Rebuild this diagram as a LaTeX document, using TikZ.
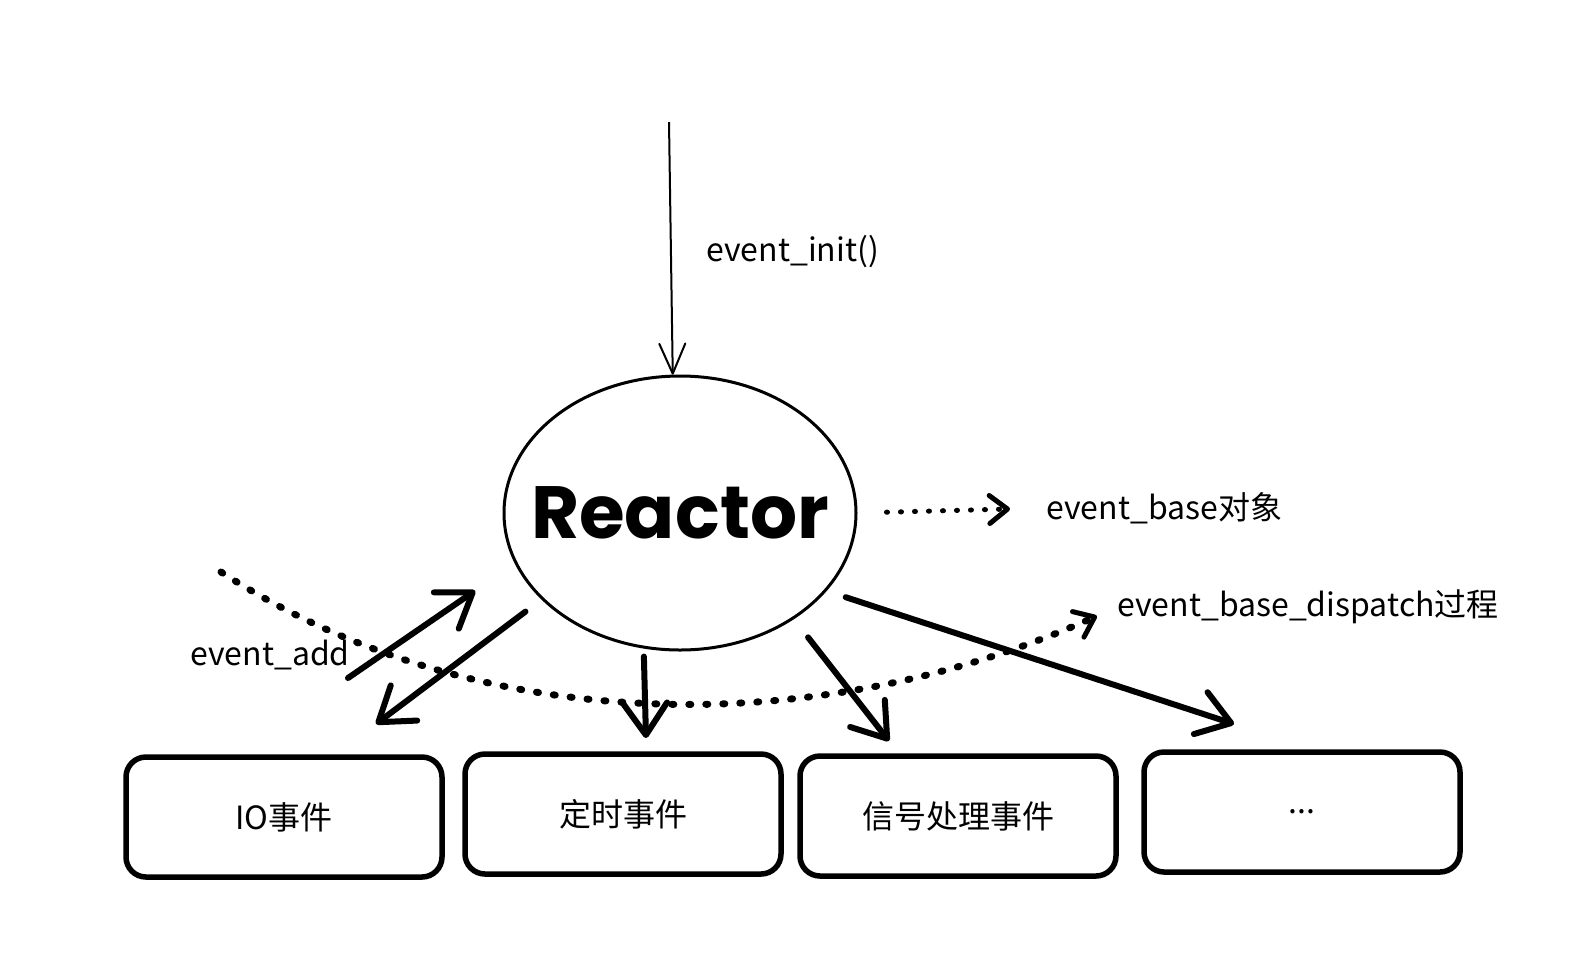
\documentclass[tikz,border=0pt]{standalone}
\usepackage{fontspec}
\setmainfont{Noto Sans CJK SC}
\newfontfamily\titlefont{Poppins}
\usepackage{tikz}
\usetikzlibrary{positioning,arrows.meta,calc,shapes.geometric}
\tikzset{
    reactor/.style={ellipse, draw, line width=1.5pt, minimum width=176pt, minimum height=137pt, inner xsep=-20pt, inner ysep=0pt, font=\titlefont\bfseries\fontsize{37}{40}\selectfont},
    event box/.style={rectangle, draw, rounded corners=10pt, line width=2.75pt, minimum width=158pt, minimum height=60pt, font=\fontsize{16}{19}\selectfont},
    call label/.style={anchor=west, inner sep=0pt, font=\fontsize{16}{19}\selectfont},
    call arrow/.style={-{Straight Barb[length=15pt, width=13pt, round]}, line width=1pt},
    event arrow/.style={-{Straight Barb[length=16pt, width=22pt, round]}, line width=3pt, line cap=round},
    dotted flow/.style={-{Straight Barb[length=9pt, width=14pt, round, line width=2.5pt]}, line width=3.5pt, line cap=round, dash pattern=on 1pt off 7.5pt},
    thin dotted flow/.style={dotted flow, line width=2.5pt, dash pattern=on 0.5pt off 6.5pt}
}

\begin{document}
\begin{tikzpicture}[x=0.5pt, y=-0.5pt]
    \useasboundingbox (0,0) rectangle (1592,966);

    % Reactor object in the middle
    \node[reactor] (reactor) at (680,513) {Reactor};

    % Event boxes along the bottom
    \node[event box] (io) at (284,817) {IO事件};
    \node[event box] (timer) at (623,814) {定时事件};
    \node[event box] (signal) at (958,816) {信号处理事件};
    \node[event box] (more) at (1302,812) {...};

    % Call labels
    \node[call label] (initlbl) at (706,252) {event\_init()};
    \node[call label] (baselbl) at (1046,508) {event\_base对象};
    \node[call label] (dispatchlbl) at (1117,607) {event\_base\_dispatch过程};
    \node[call label] (addlbl) at (190,655) {event\_add};

    % Free ends of the connectors
    \coordinate (initsrc) at (669,122);
    \coordinate (dispsrc) at (221,572);
    \coordinate (addsrc) at (348,678);
    \coordinate (ioin) at (376,724);
    \coordinate (timerin) at (646,738);
    \coordinate (signalin) at (889,741);
    \coordinate (morein) at (1234,724);

    % event_init() gives the event_base
    \draw[call arrow] (initsrc) -- (reactor.93);
    \draw[thin dotted flow, shorten <=14.5pt, shorten >=18pt] (reactor.east) -- (baselbl.west);

    % dispatch loop
    \draw[dotted flow, shorten >=11pt] (dispsrc) .. controls (480,740) and (820,740) .. (dispatchlbl.west);

    % event_add and the events
    \draw[event arrow, shorten >=24pt] (addsrc) -- (reactor.197);
    \draw[event arrow, shorten <=10pt] (reactor.212) -- (ioin);
    \draw[event arrow, shorten <=4pt] (reactor.255) -- (timerin);
    \draw[event arrow, shorten <=11.5pt] (reactor.317) -- (signalin);
    \draw[event arrow, shorten <=10pt] (reactor.332) -- (morein);
\end{tikzpicture}
\end{document}
